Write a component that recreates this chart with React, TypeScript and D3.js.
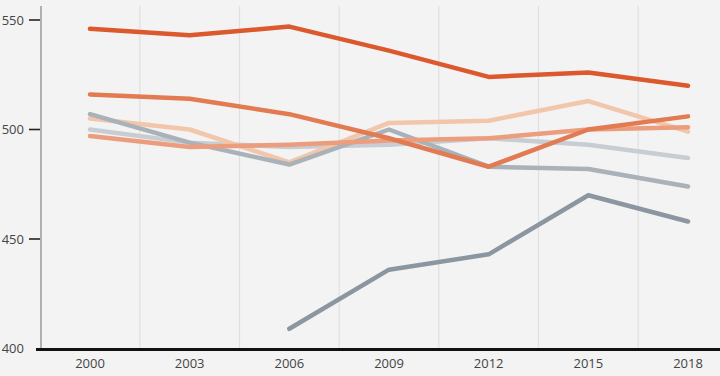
import React from "react";
import * as d3 from "d3";

const years = [2000, 2003, 2006, 2009, 2012, 2015, 2018];
const yTicks = [400, 450, 500, 550];

type Series = { name: string; color: string; values: (number | null)[] };

const seriesLightGray: (number | null)[] = [500, 494, 492, 493, 496, 493, 487];
const seriesPeach: (number | null)[] = [505, 500, 485, 503, 504, 513, 499];
const seriesMedGray: (number | null)[] = [507, 494, 484, 500, 483, 482, 474];
const seriesSalmon: (number | null)[] = [497, 492, 493, 495, 496, 500, 501];
const seriesOrange: (number | null)[] = [516, 514, 507, 496, 483, 500, 506];
const seriesDarkRed: (number | null)[] = [546, 543, 547, 536, 524, 526, 520];
const seriesDarkGray: (number | null)[] = [null, null, 409, 436, 443, 470, 458];

const series: Series[] = [
  { name: "lightgray", color: "#c8cdd3", values: seriesLightGray },
  { name: "peach", color: "#f2c6ab", values: seriesPeach },
  { name: "medgray", color: "#a9b1b9", values: seriesMedGray },
  { name: "salmon", color: "#eb9d7d", values: seriesSalmon },
  { name: "orange", color: "#e27a52", values: seriesOrange },
  { name: "darkred", color: "#dc582d", values: seriesDarkRed },
  { name: "darkgray", color: "#8b96a1", values: seriesDarkGray },
];

const W = 720;
const H = 376;

export default function App() {
  const x = d3.scaleLinear().domain([2000, 2018]).range([90, 688]);
  const y = d3.scaleLinear().domain([400, 550]).range([348.5, 20]);
  const step = x(2003) - x(2000);
  const gridXs = years.slice(0, -1).map((yr) => x(yr) + step / 2);

  const line = d3
    .line<number | null>()
    .defined((d) => d !== null)
    .x((_, i) => x(years[i]))
    .y((d) => y(d as number));

  const font = "'Open Sans', 'Noto Sans', sans-serif";

  return (
    <svg
      width={W}
      height={H}
      style={{ position: "absolute", left: 0, top: 0, background: "#f3f3f3" }}
    >
      <rect x={0} y={0} width={W} height={H} fill="#f3f3f3" />
      {gridXs.map((gx, i) => (
        <line key={i} x1={gx} x2={gx} y1={6} y2={349} stroke="#e0e0e0" strokeWidth={1.2} />
      ))}
      <line x1={41} x2={41} y1={6} y2={349} stroke="#9a9a9a" strokeWidth={1.5} />
      {yTicks.map((t) => (
        <g key={t}>
          {t !== 400 && (
            <line x1={29} x2={40} y1={y(t)} y2={y(t)} stroke="#222" strokeWidth={1.6} />
          )}
          <text
            x={24}
            y={y(t)}
            dy="0.35em"
            textAnchor="end"
            fontFamily={font}
            fontSize={13}
            fill="#444"
          >
            {t}
          </text>
        </g>
      ))}
      {series.map((s) => (
        <path
          key={s.name}
          d={line(s.values) || ""}
          fill="none"
          stroke={s.color}
          strokeWidth={4.5}
          strokeLinecap="round"
          strokeLinejoin="round"
        />
      ))}
      <line x1={36} x2={720} y1={349.5} y2={349.5} stroke="#111" strokeWidth={3} />
      {years.map((yr) => (
        <text
          key={yr}
          x={x(yr)}
          y={363}
          dy="0.35em"
          textAnchor="middle"
          fontFamily={font}
          fontSize={13}
          fill="#444"
        >
          {yr}
        </text>
      ))}
    </svg>
  );
}
